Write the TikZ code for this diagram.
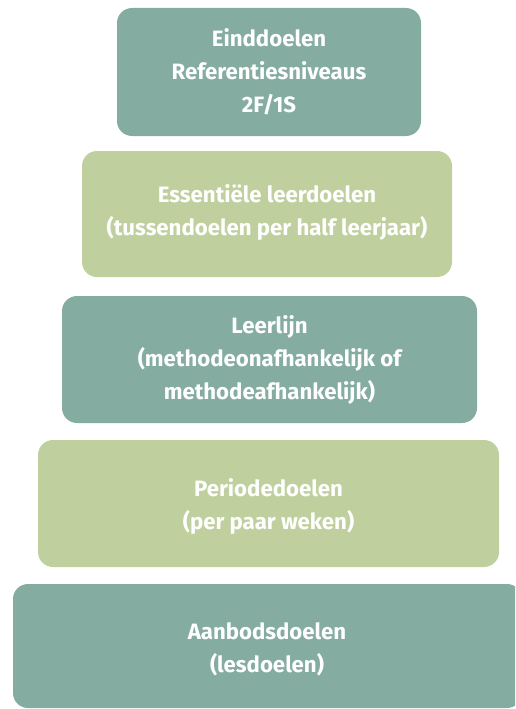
\documentclass[tikz,border=0pt]{standalone}
\usepackage{fontspec}
\setmainfont{Fira Sans}
\definecolor{teal}{HTML}{84ACA1}
\definecolor{lgreen}{HTML}{BFD09E}
\begin{document}
\begin{tikzpicture}[x=1pt,y=-1pt,
  box/.style={rounded corners=15pt},
  lbl/.style={text=white,font=\fontsize{22.2}{33}\selectfont\bfseries,align=center}]
\useasboundingbox (0,0) rectangle (515,709);
\begin{scope}
\clip (0,0) rectangle (515,709);
\fill[teal,box] (117,8) rectangle (421,136);
\fill[lgreen,box] (82,151) rectangle (452,277);
\fill[teal,box] (62,296) rectangle (477,423);
\fill[lgreen,box] (38,440) rectangle (499,567);
\fill[teal,box] (13,584) rectangle (522,708);
\end{scope}
\node[lbl] (b1) at (269,72) {Einddoelen\\Referentiesniveaus\\2F/1S};
\node[lbl] (b2) at (267,212) {Essentiële leerdoelen\\(tussendoelen per half leerjaar)};
\node[lbl] (b3) at (269.5,360) {Leerlijn\\(methodeonafhankelijk of\\methodeafhankelijk)};
\node[lbl] (b4) at (268.5,506) {Periodedoelen\\(per paar weken)};
\node[lbl] (b5) at (267,649) {Aanbodsdoelen\\(lesdoelen)};
\end{tikzpicture}
\end{document}
